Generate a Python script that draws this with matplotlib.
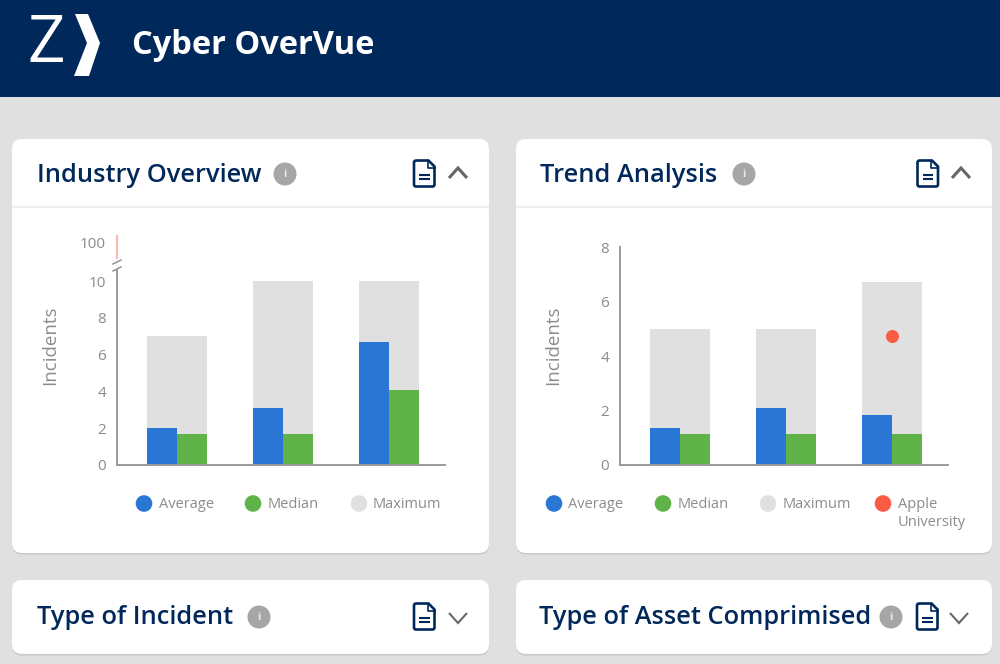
import matplotlib
matplotlib.use("Agg")
import matplotlib.pyplot as plt
from matplotlib.patches import FancyBboxPatch, Polygon, Circle
from matplotlib.path import Path
from matplotlib.patches import PathPatch

NAVY = "#00285a"
BLUE = "#2976d4"
GREEN = "#5fb348"
GREY = "#e0e0e0"
RED = "#fa5b45"
TEXT = "#8c8c8c"

# chart data
groups = [0, 1, 2]
ind_average = [2.0, 3.1, 6.7]
ind_median = [1.7, 1.7, 4.1]
ind_maximum = [7.0, 10.0, 10.0]
ind_ticks = [0, 2, 4, 6, 8, 10]
ind_top_tick = [100]

trend_average = [1.36, 2.1, 1.83]
trend_median = [1.14, 1.14, 1.14]
trend_maximum = [5.0, 5.0, 6.7]
trend_ticks = [0, 2, 4, 6, 8]
trend_point_group = [2]
trend_point_value = [4.73]

legend_names = ["Average", "Median", "Maximum"]
legend_colors = [BLUE, GREEN, GREY]
y_label = "Incidents"

plt.rcParams["font.family"] = ["Open Sans", "DejaVu Sans"]

W, H = 1000, 664
fig = plt.figure(figsize=(W / 100, H / 100), dpi=100, facecolor=GREY)

# page furniture is laid out in pixels on a full-figure axes
bg = fig.add_axes([0, 0, 1, 1])
bg.set_xlim(0, W)
bg.set_ylim(H, 0)
bg.axis("off")


def card(x0, y0, x1, y1):
    pad = 9
    bg.add_patch(FancyBboxPatch((x0 + pad, y0 + pad + 1.5), x1 - x0 - 2 * pad, y1 - y0 - 2 * pad,
                                boxstyle=f"round,pad={pad},rounding_size=10", fc="#c9c9c9", ec="none"))
    bg.add_patch(FancyBboxPatch((x0 + pad, y0 + pad), x1 - x0 - 2 * pad, y1 - y0 - 2 * pad,
                                boxstyle=f"round,pad={pad},rounding_size=10", fc="white", ec="none"))


def doc_icon(x0, y0, x1, y1):
    f = 6
    verts = [(x0 + 2, y0), (x1 - f, y0), (x1, y0 + f), (x1, y1 - 2), (x1, y1), (x1 - 2, y1),
             (x0 + 2, y1), (x0, y1), (x0, y1 - 2), (x0, y0 + 2), (x0, y0), (x0 + 2, y0)]
    codes = [Path.MOVETO, Path.LINETO, Path.LINETO, Path.LINETO, Path.CURVE3, Path.CURVE3,
             Path.LINETO, Path.CURVE3, Path.CURVE3, Path.LINETO, Path.CURVE3, Path.CURVE3]
    bg.add_patch(PathPatch(Path(verts, codes), fc="none", ec=NAVY, lw=1.9))
    bg.plot([x1 - f - 1, x1 - f - 1, x1], [y0, y0 + f + 1, y0 + f + 1], color=NAVY, lw=1.2)
    for yy in (y0 + 14, y0 + 18.5):
        bg.plot([x0 + 5, x1 - 5], [yy, yy], color=NAVY, lw=1.5, solid_capstyle="butt")


def chevron(x0, x1, ytop, ybot, up=True):
    xm = (x0 + x1) / 2
    ys = [ybot, ytop, ybot] if up else [ytop, ybot, ytop]
    bg.plot([x0, xm, x1], ys, color="#666666", lw=2.2 if up else 1.5,
            solid_joinstyle="miter", solid_capstyle="butt")


def header(title, tx, ty, ix, dx, cx, up):
    bg.text(tx, ty + 2, title, color=NAVY, fontsize=18.3, fontweight=600, va="center", ha="left")
    bg.add_patch(Circle((ix, ty + 1), 11.5, fc="#a6a6a6", ec="none"))
    bg.text(ix, ty + 1.5, "i", color="#e8e8e8", fontsize=8, fontweight="bold", va="center", ha="center")
    doc_icon(dx, ty - 12.5, dx + 20.5, ty + 13.5)
    if up:
        chevron(cx, cx + 18, ty - 5, ty + 5, True)
    else:
        chevron(cx, cx + 18, ty - 3, ty + 7, False)


# top banner
bg.fill_between([0, W], 0, 97, color=NAVY, lw=0)
bg.text(27, 45, "Z", color="white", fontsize=47, family="Open Sans", fontweight="normal", style="normal",
        va="center", ha="left")
bg.add_patch(Polygon([(75, 14), (88, 14), (100, 43), (89, 76), (74, 76), (87, 43)], fc="white", ec="none"))
bg.text(132, 45, "Cyber OverVue", color="white", fontsize=23.5, fontweight="bold", va="center", ha="left")

card(12, 139, 489, 553)
card(516, 139, 992, 553)
card(12, 580, 489, 654)
card(516, 580, 992, 654)
for x0, x1 in ((12, 489), (516, 992)):
    bg.plot([x0, x1], [206.5, 206.5], color="#eeeeee", lw=1.6, solid_capstyle="butt")

header("Industry Overview", 37, 173, 285, 414, 449, True)
header("Trend Analysis", 540, 173, 744, 917.5, 952, True)
header("Type of Incident", 37, 616, 259, 414, 449, False)
header("Type of Asset Comprimised", 539, 616, 891, 917, 950, False)


def px_axes(x0, x1, ytop, ybot):
    ax = fig.add_axes([x0 / W, 1 - ybot / H, (x1 - x0) / W, (ybot - ytop) / H])
    ax.patch.set_alpha(0)
    return ax


def draw_bars(ax, average, median, maximum, first_px, x0, x1):
    step = 106.2
    ax.set_xlim((x0 - first_px) / step, (x1 - first_px) / step)
    width = 60 / step
    ax.bar(groups, maximum, width=width, color=GREY, lw=0)
    ax.bar([g - width / 4 for g in groups], average, width=width / 2, color=BLUE, lw=0)
    ax.bar([g + width / 4 for g in groups], median, width=width / 2, color=GREEN, lw=0)
    ax.set_xticks([])
    for s in ("top", "right"):
        ax.spines[s].set_visible(False)
    for s in ("left", "bottom"):
        ax.spines[s].set_color("#9a9a9a")
        ax.spines[s].set_linewidth(1.4)
    ax.tick_params(axis="y", length=0, pad=8, labelsize=11, labelcolor=TEXT)


# left chart
ax1 = px_axes(117, 445, 270, 465)
ax1.set_ylim(0, 195 / 18.4)
ax1.set_yticks(ind_ticks)
draw_bars(ax1, ind_average, ind_median, ind_maximum, 177, 117, 445)

ax1b = px_axes(117, 445, 236, 258)
ax1b.set_ylim(85, 107)
ax1b.set_yticks(ind_top_tick)
ax1b.set_xticks([])
for s in ("top", "right", "bottom"):
    ax1b.spines[s].set_visible(False)
ax1b.spines["left"].set_color("#fbb9b0")
ax1b.spines["left"].set_linewidth(1.5)
ax1b.tick_params(axis="y", length=0, pad=8, labelsize=11, labelcolor=TEXT)
for yy in (262, 269):
    bg.plot([113, 121], [yy + 2, yy - 2], color="#8a8a8a", lw=1)
bg.text(50, 345.5, y_label, rotation=90, color=TEXT, fontsize=13.5, va="center", ha="center")

# right chart
ax2 = px_axes(620, 948, 247, 465)
ax2.set_ylim(0, 8)
ax2.set_yticks(trend_ticks)
draw_bars(ax2, trend_average, trend_median, trend_maximum, 680, 620, 948)
ax2.scatter(trend_point_group, trend_point_value, s=88, color=RED, lw=0, zorder=5)
bg.text(553, 345.5, y_label, rotation=90, color=TEXT, fontsize=13.5, va="center", ha="center")


def legend_entry(cx, tx, name, color):
    bg.add_patch(Circle((cx, 503.5), 8.3, fc=color, ec="none"))
    bg.text(tx, 505, name, color=TEXT, fontsize=10.5, va="center", ha="left")


for cx, tx, name, color in zip((144, 253, 359), (159, 268, 373), legend_names, legend_colors):
    legend_entry(cx, tx, name, color)
for cx, tx, name, color in zip((554, 663, 768), (568, 678, 783), legend_names, legend_colors):
    legend_entry(cx, tx, name, color)
legend_entry(883, 898, "Apple", RED)
bg.text(898, 523, "University", color=TEXT, fontsize=10.5, va="center", ha="left")

fig.savefig("out.png", dpi=100, facecolor=GREY)
